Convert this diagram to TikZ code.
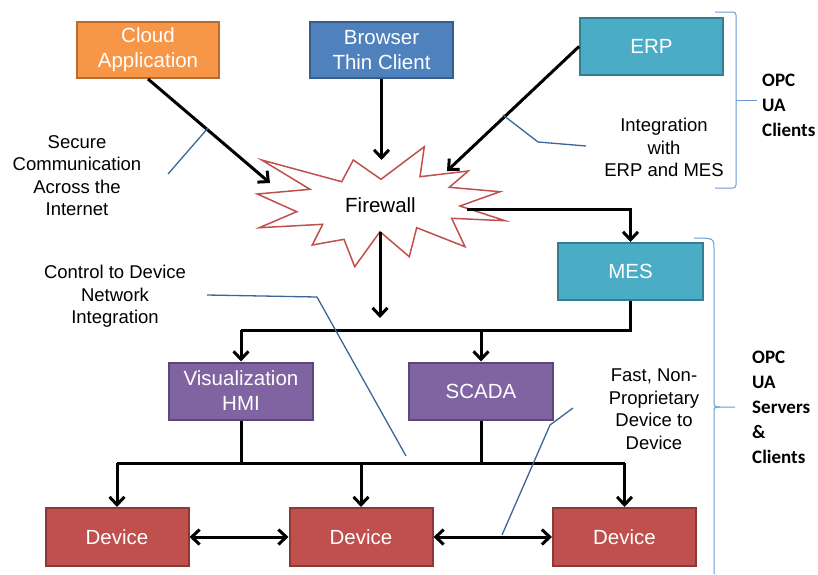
\documentclass[tikz,border=0pt]{standalone}
\usepackage{fontspec}
\setmainfont{Liberation Sans}
\newfontfamily\opcfont{Carlito}
\usepackage{xcolor}
\usepackage{tikz}
\usetikzlibrary{arrows.meta}

\definecolor{cloudfill}{HTML}{F79646}
\definecolor{cloudedge}{HTML}{B66D31}
\definecolor{browserfill}{HTML}{4F81BD}
\definecolor{browseredge}{HTML}{385D8A}
\definecolor{tealfill}{HTML}{4BACC6}
\definecolor{tealedge}{HTML}{357D91}
\definecolor{purplefill}{HTML}{8064A2}
\definecolor{purpleedge}{HTML}{5C4776}
\definecolor{devicefill}{HTML}{C0504D}
\definecolor{deviceedge}{HTML}{8C3836}
\definecolor{calloutblue}{HTML}{3C6697}
\definecolor{bracketblue}{HTML}{6A9AD4}

\tikzset{
    box/.style={draw, line width=2, text=white, align=center,
        minimum width=143, minimum height=56,
        font=\fontsize{20.5}{25}\selectfont},
    note/.style={align=center, font=\fontsize{18.5}{22.5}\selectfont},
    opc/.style={align=left, anchor=west, inner sep=0pt, font=\opcfont\bfseries\fontsize{19}{25}\selectfont},
    link/.style={line width=3},
    arr/.style={line width=3, -{Straight Barb[length=8pt, width=15pt]}},
    dblarr/.style={line width=3, {Straight Barb[length=8pt, width=15pt]}-{Straight Barb[length=8pt, width=15pt]}},
    callout/.style={calloutblue, line width=1.3},
    bracket/.style={bracketblue, line width=1}
}

\begin{document}
\begin{tikzpicture}[x=1pt, y=-1pt]
        \useasboundingbox (0,0) rectangle (818,574);

        % Client boxes
        \node[box, fill=cloudfill, draw=cloudedge, minimum width=142] (cloud) at (148,50) {Cloud\\Application};
        \node[box, fill=browserfill, draw=browseredge] (browser) at (381.5,50) {Browser\\Thin Client};
        \node[box, fill=tealfill, draw=tealedge, minimum height=57] (erp) at (651.5,46.5) {ERP};

        % Firewall burst
        \draw[draw=devicefill, line width=1.5, fill=white]
            (261.7,160) -- (310,189.3) -- (257.3,194) -- (296.7,211.7) -- (259.3,227.7)
            -- (322.7,224.3) -- (312.3,245) -- (344,239.3) -- (354.7,266.7) -- (380,231.7)
            -- (409.3,256.7) -- (416.7,227.7) -- (465,246.7) -- (451.7,218.3) -- (505,220.7)
            -- (460,206) -- (500,191.7) -- (449.3,187.3) -- (468.3,171) -- (420,176.7)
            -- (424.3,146.7) -- (381,179.3) -- (353.3,160) -- (341.7,181.7) -- cycle;
        \node[font=\fontsize{20.5}{25}\selectfont] (fw) at (380.5,205) {Firewall};
        \coordinate (fwleft) at (270,183);
        \coordinate (fwtop) at (381.5,160);
        \coordinate (fwright) at (447,171);
        \coordinate (fwout) at (467,209);
        \coordinate (fwbottom) at (380,232);

        % Server and control boxes
        \node[box, fill=tealfill, draw=tealedge, minimum width=145, minimum height=57] (mes) at (630.5,271.5) {MES};
        \node[box, fill=purplefill, draw=purpleedge, minimum width=144, minimum height=57] (hmi) at (241,391) {Visualization\\HMI};
        \node[box, fill=purplefill, draw=purpleedge, minimum width=144, minimum height=57] (scada) at (481,391) {SCADA};

        % Devices
        \foreach \i/\x in {1/117, 2/361, 3/624.5} {
            \node[box, fill=devicefill, draw=deviceedge, minimum height=58] (dev\i) at (\x,537) {Device};
        }

        % Arrows into the firewall
        \draw[arr] (cloud.south) -- (fwleft);
        \draw[arr] (browser.south) -- (fwtop);
        \draw[arr] (erp.west) -- (fwright);

        % Firewall to MES and control level
        \draw[arr] (fwout) -| (mes.north);
        \coordinate (busA) at (0,330);
        \draw[arr] (fwbottom) -- (fwbottom |- 0,318);
        \draw[link] (mes.south) |- (hmi.north |- busA);
        \draw[arr] (hmi.north |- busA) -- (hmi.north);
        \draw[arr] (scada.north |- busA) -- (scada.north);

        % Control level to devices
        \coordinate (busB) at (0,463);
        \draw[link] (hmi.south) -- (hmi.south |- busB);
        \draw[link] (scada.south) -- (scada.south |- busB);
        \draw[link] (dev1.north |- busB) -- (dev3.north |- busB);
        \foreach \i in {1,2,3} {
            \draw[arr] (dev\i.north |- busB) -- (dev\i.north);
        }
        \draw[dblarr] (dev1.east) -- (dev2.west);
        \draw[dblarr] (dev2.east) -- (dev3.west);

        % Callouts
        \node[note] (secure) at (77,175.5) {Secure\\Communication\\Across the\\Internet};
        \draw[callout] (168,174) -- (208,128);
        \node[note] (integration) at (664,147.5) {Integration\\with\\ERP and MES};
        \draw[callout] (503,115) -- (538,142) -- (586,146);
        \node[note] (control) at (115,296.5) {Control to Device\\Network\\Integration};
        \draw[callout] (207,295) -- (317,297) -- (406,456);
        \node[note] (fast) at (654,409) {Fast, Non-\\Proprietary\\Device to\\Device};
        \draw[callout] (573,408) -- (550,425) -- (502,535);

        % Brackets and OPC labels
        \draw[bracket, rounded corners=3] (715,12) -- (736,12) -- (736,188) -- (715,188);
        \draw[bracket] (736,100) -- (757,100);
        \node[opc] (clients) at (762,105) {OPC\\UA\\Clients};
        \draw[bracket] (694,238) .. controls (714,238) .. (714,250) -- (714,400)
            .. controls (714,407) .. (720,407) -- (735,407);
        \draw[bracket] (720,407) .. controls (714,407) .. (714,414) -- (714,574);
        \node[opc] (servers) at (752,407) {OPC\\UA\\Servers\\\&\\Clients};
\end{tikzpicture}
\end{document}
